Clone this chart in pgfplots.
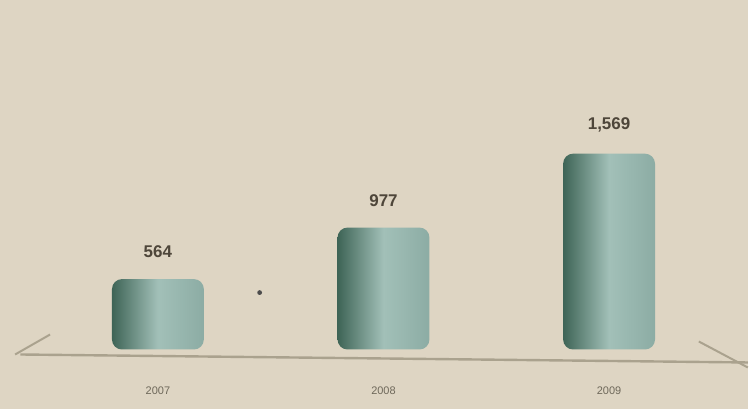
\documentclass[border=0pt]{standalone}
\usepackage{pgfplots}
\pgfplotsset{compat=1.18}
\usepackage{fontspec}
\setmainfont{Liberation Sans}
\definecolor{bg}{RGB}{222,213,195}
\definecolor{bardark}{RGB}{62,100,86}
\definecolor{barmid}{RGB}{162,192,184}
\definecolor{barlight}{RGB}{140,172,164}
\definecolor{lbl}{RGB}{78,70,58}
\definecolor{tick}{RGB}{110,104,90}
\definecolor{base}{RGB}{170,162,142}
\begin{document}
\begin{tikzpicture}
\begin{axis}[
    scale only axis,
    width=374.5pt, height=205pt,
    xmin=-0.70, xmax=2.615,
    ymin=-480, ymax=2800,
    axis background/.style={fill=bg},
    axis x line*=middle,
    axis y line=none,
    axis line style={draw=none},
    major tick length=0pt,
    xtick={0,1,2},
    xticklabels={2007,2008,2009},
    xticklabel style={font=\fontsize{5.5}{6}\selectfont, text=tick, yshift=-15pt},
    ytick=\empty,
    clip=false,
    /pgf/number format/assume math mode=true,
    /pgf/number format/1000 sep={,},
    nodes near coords,
    every node near coord/.append style={font=\fontsize{8.5}{10}\selectfont\bfseries, text=lbl, yshift=7pt},
    barstyle/.style={ybar, bar width=46pt, bar shift=0pt, draw=none, rounded corners=5pt,
        left color=bardark, right color=barlight, middle color=barmid},
]
\addplot[barstyle] coordinates {(0,564)};
\addplot[barstyle] coordinates {(1,977)};
\addplot[barstyle] coordinates {(2,1569)};
\draw[base, line width=1.2pt] (axis cs:-0.61,-40) -- (axis cs:2.615,-104);
\draw[base, line width=1pt] (axis cs:-0.633,-40) -- (axis cs:-0.478,120);
\draw[base, line width=1pt] (axis cs:2.398,64) -- (axis cs:2.615,-144);
\fill[black!70] (axis cs:0.451,456) circle (1.2pt);
\end{axis}
\end{tikzpicture}
\end{document}
